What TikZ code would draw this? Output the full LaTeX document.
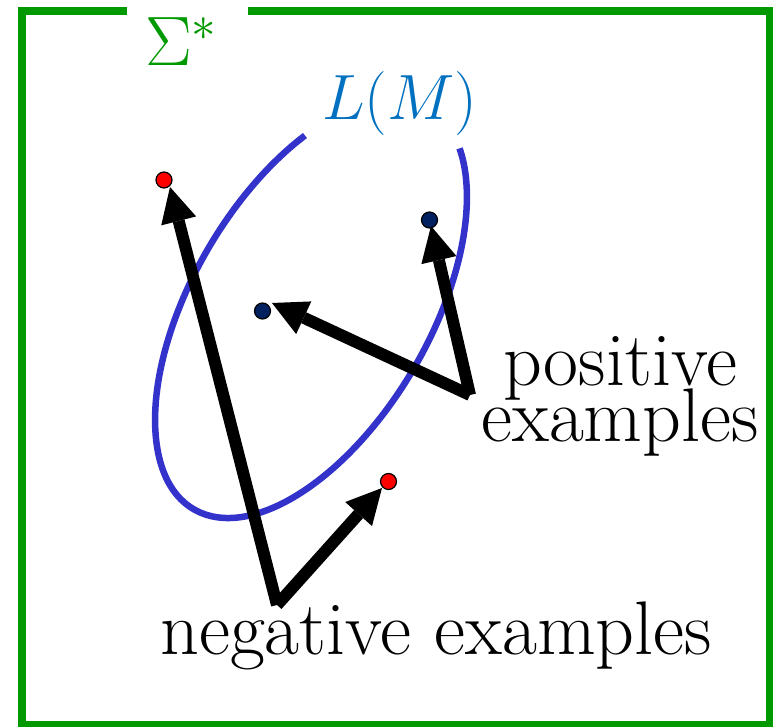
\RequirePackage{fix-cm}
\documentclass[tikz,border=0pt]{standalone}
\usepackage{fontspec}
\usetikzlibrary{arrows.meta}
\definecolor{frameg}{RGB}{0,153,0}
\definecolor{lmblue}{RGB}{0,112,192}
\definecolor{ellblue}{RGB}{51,51,204}
\definecolor{navy}{RGB}{0,32,96}
\begin{document}
\begin{tikzpicture}[x=1pt,y=1pt,
  dotr/.style={circle,draw=black,line width=1.2pt,fill=red,minimum size=16pt,inner sep=0pt},
  dotb/.style={dotr,fill=navy},
  bigarrow/.style={line width=12pt,line cap=butt,-{Triangle[length=35pt,width=36pt,line width=0pt]}},
  lbl/.style={font=\fontsize{76}{76}\selectfont,inner sep=0pt,anchor=base}]
\useasboundingbox (0,0) rectangle (773,726);
% frame
\draw[frameg,line width=8pt] (127,715) -- (22,715) -- (22,1) -- (770,1) -- (770,715) -- (248,715);
% ellipse L(M)
\draw[ellblue,line width=6.5pt,shift={(311,417.5)},rotate=59.7]
  (51:232.5 and 119) arc[start angle=51,end angle=336.5,x radius=232.5,y radius=119];
% coordinates
\coordinate (vn) at (277,121);
\coordinate (vp) at (470,331);
\coordinate (t1) at (170,539);
\coordinate (t2) at (382,238);
\coordinate (t3) at (272,423);
\coordinate (t4) at (431,500);
% arrows
\draw[bigarrow] (vn) -- (t1);
\draw[bigarrow] (vn) -- (t2);
\draw[bigarrow] (vp) -- (t3);
\draw[bigarrow] (vp) -- (t4);
% dots
\node[dotr] (r1) at (164,546) {};
\node[dotb] (b1) at (429.5,506) {};
\node[dotb] (b2) at (262.5,415) {};
\node[dotr] (r2) at (388.5,244.5) {};
% labels
\node[anchor=base west,inner sep=0pt,text=frameg,font=\fontsize{70}{70}\selectfont] (sigma) at (145,660)
  {$\Sigma^{*}$};
\node[anchor=base west,inner sep=0pt,text=lmblue,font=\fontsize{64}{64}\selectfont] (lm) at (322,606)
  {$L(M)$};
\node[lbl] (posA) at (620,340) {positive};
\node[lbl] (posB) at (620,284) {examples};
\node[lbl] (neg) at (436,72) {negative examples};
\end{tikzpicture}
\end{document}
